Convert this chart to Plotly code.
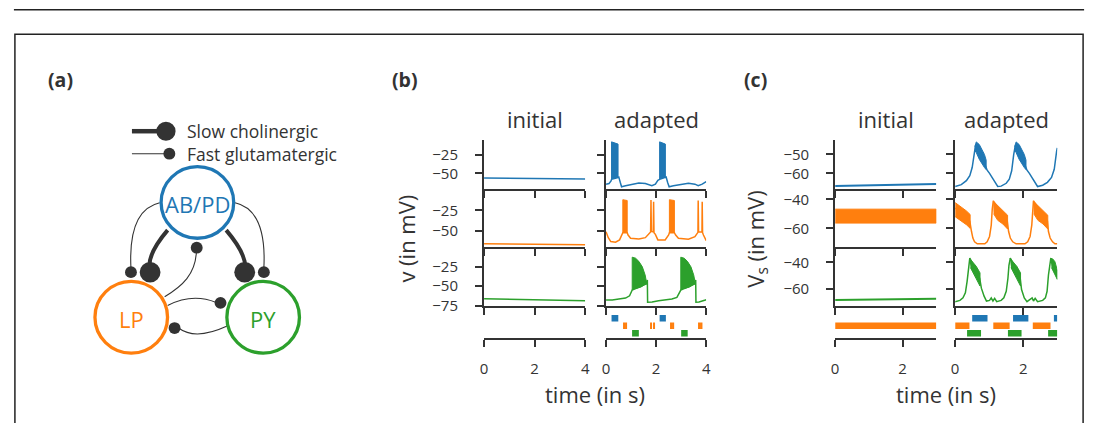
import plotly.graph_objects as go

W, H = 1100, 432
BLUE, ORANGE, GREEN = "#1f77b4", "#ff7f0e", "#2ca02c"
INK = "#333333"

# ======================= DATA =======================
# ---- panel (b): membrane potential v (mV) vs time (s) ----
b_t_initial = [0.0, 2.0, 4.0]
b_ab_initial = [-56.2, -56.9, -57.5]
b_lp_initial = [-65.5, -66.1, -66.7]
b_py_initial = [-66.3, -67.6, -69.0]

b_ab_t = [0.0, 0.12, 0.20, 0.22, 0.48, 0.51, 0.57, 0.62, 0.78, 1.04, 1.31, 1.57, 1.83, 1.97,
          2.07, 2.14, 2.37, 2.40, 2.46, 2.52, 2.69, 3.02, 3.29, 3.55, 3.68, 3.84, 4.0]
b_ab_v = [-64.5, -63.6, -60.1, -58.0, -55.5, -54.9, -62.3, -68.0, -66.7, -64.5, -62.8, -63.6, -66.7, -64.5,
          -59.2, -58.0, -55.5, -54.9, -62.3, -68.0, -66.7, -64.5, -63.2, -64.5, -66.7, -64.5, -61.0]
b_ab_burst_t = [[0.22, 0.22, 0.48, 0.48], [2.14, 2.14, 2.37, 2.37]]
b_ab_burst_v = [[-58.0, -7.5, -10.5, -55.5], [-58.0, -7.5, -10.5, -55.5]]

b_lp_t = [0.0, 0.09, 0.19, 0.38, 0.54, 0.65, 0.67, 0.845, 0.88, 0.98, 1.31, 1.57, 1.70, 1.78, 1.795,
          1.81, 1.885, 1.90, 1.915, 1.97, 2.07, 2.36, 2.50, 2.53, 2.73, 2.78, 2.89, 3.29, 3.55, 3.64,
          3.67, 3.68, 3.695, 3.83, 3.84, 3.855, 3.89, 3.97, 4.0]
b_lp_v = [-50.8, -58.0, -62.7, -63.5, -60.7, -54.8, -52.0, -52.0, -54.8, -58.7, -59.5, -58.0, -52.8, -51.0, -12.5,
          -50.5, -51.0, -14.5, -52.0, -54.0, -60.7, -60.7, -54.8, -52.0, -52.0, -54.8, -58.7, -59.9, -56.8, -52.8,
          -51.5, -13.0, -51.0, -51.0, -14.5, -52.0, -54.8, -60.7, -61.5]
b_lp_burst_t = [[0.67, 0.67, 0.845, 0.845], [2.53, 2.53, 2.73, 2.73]]
b_lp_burst_v = [[-52.0, -12.0, -13.0, -52.0], [-52.0, -12.0, -13.0, -52.0]]

b_py_t = [0.0, 0.25, 0.51, 0.78, 0.94, 1.02, 1.045, 1.60, 1.65, 1.66, 1.84, 2.10, 2.36, 2.63, 2.83, 2.93,
          2.985, 3.54, 3.58, 3.59, 3.71, 3.97, 4.0]
b_py_v = [-67.9, -67.9, -66.7, -65.4, -62.5, -56.3, -55.0, -47.0, -42.0, -70.8, -70.4, -68.8, -67.9, -66.7, -64.6, -58.3,
          -55.0, -47.0, -42.0, -70.8, -70.4, -67.9, -67.5]
b_py_burst_t = [[1.045, 1.045, 1.18, 1.31, 1.45, 1.56, 1.61, 1.61, 1.40, 1.20],
                [2.985, 2.985, 3.12, 3.25, 3.39, 3.50, 3.55, 3.55, 3.34, 3.14]]
b_py_burst_v = [[-55.0, -12.5, -13.8, -17.9, -25.0, -35.4, -43.8, -46.5, -51.0, -53.0],
                [-55.0, -12.5, -13.8, -17.9, -25.0, -35.4, -43.8, -46.5, -51.0, -53.0]]

# spike rasters (b, adapted): burst on/off times (s)
b_ab_on, b_ab_off = [0.22, 2.14], [0.49, 2.39]
b_lp_on = [0.69, 0.78, 1.77, 1.88, 2.56, 2.66, 3.68, 3.79]
b_lp_off = [0.74, 0.84, 1.83, 1.93, 2.62, 2.72, 3.74, 3.85]
b_py_on, b_py_off = [1.04, 3.00], [1.31, 3.26]

b_xticks = [0, 2, 4]
b_yticks = [[-50, -25], [-50, -25], [-75, -50, -25]]
b_yranges = [[-71, -5], [-69, 1], [-75, 1]]

# ---- panel (c): V_s (mV) vs time (s) ----
c_t_initial = [0.0, 1.5, 3.0]
c_ab_initial = [-66.6, -66.1, -65.6]
c_py_initial = [-68.6, -68.1, -67.6]
c_lp_initial_band_t = [0.0, 3.0, 3.0, 0.0]
c_lp_initial_band_v = [-46.8, -46.8, -56.4, -56.4]

c_ab_t = [0.0, 0.18, 0.33, 0.43, 0.50, 0.55, 0.60, 0.87, 0.94, 1.01, 1.11, 1.18, 1.25, 1.35, 1.50, 1.59,
          1.66, 1.72, 1.77, 2.04, 2.11, 2.18, 2.28, 2.35, 2.42, 2.57, 2.71, 2.83, 2.91, 2.98, 3.0]
c_ab_v = [-66.9, -65.9, -63.8, -61.2, -56.9, -50.0, -45.0, -55.0, -58.3, -60.0, -63.0, -65.5, -66.9, -66.7, -65.2, -63.0,
          -58.6, -50.0, -45.0, -55.0, -58.3, -60.0, -63.0, -65.5, -66.9, -66.2, -64.7, -62.1, -57.8, -48.3, -46.5]
c_ab_burst_t = [[0.58, 0.62, 0.71, 0.86, 0.91, 0.91, 0.86, 0.71, 0.62, 0.58],
                [1.75, 1.79, 1.88, 2.03, 2.08, 2.08, 2.03, 1.88, 1.79, 1.75]]
c_ab_burst_v = [[-46.0, -43.4, -44.8, -50.0, -53.0, -58.0, -56.9, -52.6, -49.0, -48.0],
                [-46.0, -43.4, -44.8, -50.0, -53.0, -58.0, -56.9, -52.6, -49.0, -48.0]]

c_lp_t = [0.0, 0.43, 0.48, 0.52, 0.57, 0.65, 0.87, 0.94, 1.01, 1.06, 1.09, 1.12, 1.53, 1.57, 1.62, 1.69,
          1.79, 2.05, 2.13, 2.20, 2.25, 2.28, 2.30, 2.71, 2.74, 2.79, 2.86, 2.93, 3.0]
c_lp_v = [-46.0, -55.0, -62.2, -66.7, -69.3, -70.7, -70.7, -69.3, -65.6, -57.8, -46.7, -41.1, -55.0, -62.2, -66.7, -69.3,
          -70.7, -70.7, -69.3, -65.6, -57.8, -46.7, -41.1, -55.0, -62.2, -66.7, -69.3, -70.7, -70.7]
c_lp_burst_t = [[0.0, 0.18, 0.33, 0.44, 0.44, 0.33, 0.18, 0.0],
                [1.11, 1.25, 1.40, 1.54, 1.54, 1.40, 1.25, 1.13],
                [2.29, 2.43, 2.58, 2.72, 2.72, 2.58, 2.43, 2.31]]
c_lp_burst_v = [[-42.3, -45.3, -48.0, -50.5, -60.0, -57.5, -55.0, -52.0],
                [-41.1, -44.3, -47.5, -51.0, -60.5, -57.0, -54.5, -50.0],
                [-41.1, -44.3, -47.5, -51.0, -60.5, -57.0, -54.5, -50.0]]

c_py_t = [0.0, 0.14, 0.23, 0.30, 0.35, 0.39, 0.43, 0.72, 0.77, 0.85, 0.92, 1.01, 1.06, 1.11, 1.16, 1.22,
          1.35, 1.43, 1.50, 1.55, 1.58, 1.62, 1.91, 1.95, 2.03, 2.11, 2.21, 2.26, 2.30, 2.35, 2.42, 2.57,
          2.65, 2.70, 2.74, 2.78, 2.81]
c_py_v = [-69.9, -68.9, -67.0, -63.2, -54.6, -44.7, -36.8, -52.0, -59.6, -65.7, -69.4, -68.9, -67.0, -69.4, -67.4, -69.9,
          -68.9, -67.0, -62.0, -52.1, -42.2, -36.8, -52.0, -60.7, -67.0, -69.9, -68.4, -67.0, -69.4, -67.4, -69.9, -68.9,
          -67.0, -62.0, -49.6, -39.8, -36.8]
c_py_burst_t = [[0.42, 0.52, 0.62, 0.73, 0.73, 0.62, 0.52, 0.45],
                [1.61, 1.71, 1.81, 1.92, 1.92, 1.81, 1.71, 1.64],
                [2.80, 2.87, 2.93, 2.97, 3.0, 3.0, 2.95, 2.90, 2.83]]
c_py_burst_v = [[-36.8, -39.5, -43.0, -48.0, -58.0, -52.5, -48.0, -44.0],
                [-36.8, -39.5, -43.0, -48.0, -58.0, -52.5, -48.0, -44.0],
                [-36.8, -37.5, -39.5, -44.0, -46.0, -53.0, -50.0, -47.5, -44.0]]

c_lp_initial_on, c_lp_initial_off = [0.0], [3.0]
c_ab_on, c_ab_off = [0.50, 1.70, 2.90], [0.95, 2.15, 3.0]
c_lp_on, c_lp_off = [0.0, 1.12, 2.28], [0.42, 1.60, 2.80]
c_py_on, c_py_off = [0.35, 1.55, 2.73], [0.76, 1.95, 3.0]

c_xticks = [0, 2]
c_yticks = [[-60, -50], [-60, -40], [-60, -40]]
c_yranges = [[-68.2, -42.4], [-72.7, -32.9], [-72.8, -28.1]]

# raster row index for each neuron
RASTER_ROW = {"AB": 2, "LP": 1, "PY": 0}

# ======================= LAYOUT =======================
COL_PX = {"b": [(484, 586), (607, 708)], "c": [(838, 940), (959, 1062)]}
ROW_PX = [(143, 193), (193, 252), (252, 312), (312, 345)]
XRANGE = {"b": [0, 4], "c": [0, 3]}
XTICKS = {"b": b_xticks, "c": c_xticks}
YTICKS = {"b": b_yticks, "c": c_yticks}
YRANGES = {"b": b_yranges, "c": c_yranges}
RASTER_RANGE = [-0.61, 3.7]

OS = "Open Sans"
TICKFONT = dict(family=OS, size=15, color=INK)


def names(n):
    s = "" if n == 1 else str(n)
    return "x" + s, "y" + s, "xaxis" + s, "yaxis" + s


def axis_id(panel, row, col):
    return 1 + (0 if panel == "b" else 8) + row * 2 + col


fig = go.Figure()
lay = dict(width=W, height=H, margin=dict(l=0, r=0, t=0, b=0),
           paper_bgcolor="white", plot_bgcolor="rgba(0,0,0,0)",
           showlegend=False, barmode="overlay")

for panel in ("b", "c"):
    for row in range(4):
        for col in range(2):
            n = axis_id(panel, row, col)
            xr, yr, xk, yk = names(n)
            x0, x1 = COL_PX[panel][col]
            y0, y1 = ROW_PX[row]
            lay[xk] = dict(domain=[x0 / W, x1 / W], anchor=yr, range=XRANGE[panel],
                           showline=True, linecolor=INK, linewidth=2, ticks="outside",
                           ticklen=7, tickwidth=2, tickcolor=INK, tickvals=XTICKS[panel],
                           showticklabels=(row == 3), tickfont=TICKFONT, ticklabelstandoff=9,
                           showgrid=False, zeroline=False, fixedrange=True)
            if row < 3:
                tv = YTICKS[panel][row]
                lay[yk] = dict(domain=[1 - y1 / H, 1 - y0 / H], anchor=xr,
                               range=YRANGES[panel][row], showline=True, linecolor=INK,
                               linewidth=2, ticks="outside", ticklen=7, tickwidth=2,
                               tickcolor=INK, tickvals=tv,
                               ticktext=["\u2212" + str(abs(v)) for v in tv],
                               showticklabels=(col == 0), tickfont=TICKFONT,
                               ticklabelstandoff=14,
                               showgrid=False, zeroline=False, fixedrange=True)
            else:
                lay[yk] = dict(domain=[1 - y1 / H, 1 - y0 / H], anchor=xr,
                               range=RASTER_RANGE, showline=False, ticks="",
                               showticklabels=False, showgrid=False, zeroline=False,
                               fixedrange=True)


def add_line(n, t, v, color, width=1.5):
    xr, yr, _, _ = names(n)
    fig.add_trace(go.Scatter(x=t, y=v, mode="lines", line=dict(color=color, width=width),
                             xaxis=xr, yaxis=yr, hoverinfo="skip"))


def add_polys(n, ts, vs, color):
    xr, yr, _, _ = names(n)
    for t, v in zip(ts, vs):
        fig.add_trace(go.Scatter(x=t, y=v, mode="lines", fill="toself", fillcolor=color,
                                 line=dict(color=color, width=1), xaxis=xr, yaxis=yr,
                                 hoverinfo="skip"))


def add_raster(n, key, on, off, color):
    xr, yr, _, _ = names(n)
    fig.add_trace(go.Bar(orientation="h", y=[RASTER_ROW[key]] * len(on),
                         x=[b - a for a, b in zip(on, off)], base=on, width=0.86,
                         marker=dict(color=color, line=dict(width=0)),
                         xaxis=xr, yaxis=yr, hoverinfo="skip"))


# ---- panel (b) ----
add_line(axis_id("b", 0, 0), b_t_initial, b_ab_initial, BLUE)
add_line(axis_id("b", 1, 0), b_t_initial, b_lp_initial, ORANGE)
add_line(axis_id("b", 2, 0), b_t_initial, b_py_initial, GREEN)
add_line(axis_id("b", 0, 1), b_ab_t, b_ab_v, BLUE)
add_polys(axis_id("b", 0, 1), b_ab_burst_t, b_ab_burst_v, BLUE)
add_line(axis_id("b", 1, 1), b_lp_t, b_lp_v, ORANGE)
add_polys(axis_id("b", 1, 1), b_lp_burst_t, b_lp_burst_v, ORANGE)
add_line(axis_id("b", 2, 1), b_py_t, b_py_v, GREEN)
add_polys(axis_id("b", 2, 1), b_py_burst_t, b_py_burst_v, GREEN)
add_raster(axis_id("b", 3, 1), "AB", b_ab_on, b_ab_off, BLUE)
add_raster(axis_id("b", 3, 1), "LP", b_lp_on, b_lp_off, ORANGE)
add_raster(axis_id("b", 3, 1), "PY", b_py_on, b_py_off, GREEN)
add_line(axis_id("b", 3, 0), [None], [None], INK)

# ---- panel (c) ----
add_line(axis_id("c", 0, 0), c_t_initial, c_ab_initial, BLUE, 2)
add_polys(axis_id("c", 1, 0), [c_lp_initial_band_t], [c_lp_initial_band_v], ORANGE)
add_line(axis_id("c", 2, 0), c_t_initial, c_py_initial, GREEN, 2)
add_line(axis_id("c", 0, 1), c_ab_t, c_ab_v, BLUE)
add_polys(axis_id("c", 0, 1), c_ab_burst_t, c_ab_burst_v, BLUE)
add_line(axis_id("c", 1, 1), c_lp_t, c_lp_v, ORANGE)
add_polys(axis_id("c", 1, 1), c_lp_burst_t, c_lp_burst_v, ORANGE)
add_line(axis_id("c", 2, 1), c_py_t, c_py_v, GREEN)
add_polys(axis_id("c", 2, 1), c_py_burst_t, c_py_burst_v, GREEN)
add_raster(axis_id("c", 3, 0), "LP", c_lp_initial_on, c_lp_initial_off, ORANGE)
add_raster(axis_id("c", 3, 1), "AB", c_ab_on, c_ab_off, BLUE)
add_raster(axis_id("c", 3, 1), "LP", c_lp_on, c_lp_off, ORANGE)
add_raster(axis_id("c", 3, 1), "PY", c_py_on, c_py_off, GREEN)

# ---- full-figure pixel axis for the diagram, frame and labels ----
lay["xaxis17"] = dict(domain=[0, 1], range=[0, W], visible=False, anchor="y17", fixedrange=True)
lay["yaxis17"] = dict(domain=[0, 1], range=[H, 0], visible=False, anchor="x17", fixedrange=True)
fig.add_trace(go.Scatter(x=[None], y=[None], xaxis="x17", yaxis="y17", hoverinfo="skip"))

shapes = []
P = dict(xref="x17", yref="y17")
# frame
shapes.append(dict(type="line", x0=10, x1=1089, y0=10, y1=10, line=dict(color="#222", width=1.5), **P))
shapes.append(dict(type="rect", x0=11, x1=1088, y0=35, y1=460, line=dict(color="#222", width=1.5), **P))

# diagram nodes
NODES = {"AB/PD": (195, 206.7, BLUE), "LP": (128.3, 324, ORANGE), "PY": (261.3, 324, GREEN)}
R_NODE = 36.6
THIN = dict(color=INK, width=1.1)
THICK = dict(color=INK, width=4)
conn = [
    ("M 165,235 Q 144,260 147,275", THICK),
    ("M 224,235 Q 245,260 243,275", THICK),
    ("M 157,207 C 135,212 126,235 128,274", THIN),
    ("M 233,207 C 255,212 264,235 262,274", THIN),
    ("M 162,303 C 180,292 193,280 194,257", THIN),
    ("M 165,312 Q 190,299 214,309", THIN),
    ("M 225,333 Q 193,348 176,335", THIN),
]
for path, ln in conn:
    shapes.append(dict(type="path", path=path, line=ln, **P))
for label, (cx, cy, col) in NODES.items():
    shapes.append(dict(type="circle", x0=cx - R_NODE, x1=cx + R_NODE, y0=cy - R_NODE, y1=cy + R_NODE,
                       fillcolor="white", line=dict(color=col, width=3.3), **P))
dots = [(147.3, 278, 10.5), (242.7, 278, 10.5), (128, 278, 6), (262, 278, 6),
        (194.3, 253, 6), (218.3, 309.3, 6), (172, 335, 6)]
# legend of synapse types
shapes.append(dict(type="line", x0=129, x1=158, y0=134, y1=134, line=dict(color=INK, width=4.5), **P))
shapes.append(dict(type="line", x0=129, x1=164, y0=157, y1=157, line=dict(color=INK, width=1.1), **P))
dots += [(163.3, 134, 9.7), (166.7, 157, 6)]
for cx, cy, r in dots:
    shapes.append(dict(type="circle", x0=cx - r, x1=cx + r, y0=cy - r, y1=cy + r,
                       fillcolor=INK, line=dict(width=0), **P))
lay["shapes"] = shapes

ann = []


def text(x, y, s, size, color=INK, family=OS, xanchor="center", angle=0):
    ann.append(dict(x=x, y=y, xref="x17", yref="y17", text=s, showarrow=False,
                    font=dict(family=family, size=size, color=color),
                    xanchor=xanchor, yanchor="middle", textangle=angle))


text(57, 81, "<b>(a)</b>", 19.5)
text(404, 81, "<b>(b)</b>", 19.5)
text(758, 81, "<b>(c)</b>", 19.5)
text(182, 134, "Slow cholinergic", 17.5, xanchor="left")
text(182, 157, "Fast glutamatergic", 17.5, xanchor="left")
for label, (cx, cy, col) in NODES.items():
    text(cx, cy + 1.5, label, 22, color=col)

for panel in ("b", "c"):
    (a0, a1), (d0, d1) = COL_PX[panel]
    text((a0 + a1) / 2, 122, "initial", 22)
    text((d0 + d1) / 2, 122, "adapted", 22)
    text((a0 + d1) / 2, 402, "time (in s)", 22)
text(405, 244, "v (in mV)", 22, angle=-90)
text(759, 244, "V<sub>s</sub> (in mV)", 22, angle=-90)
lay["annotations"] = ann

fig.update_layout(**lay)
fig.write_html("out.html")
